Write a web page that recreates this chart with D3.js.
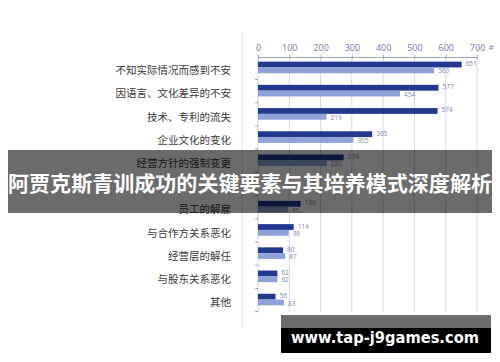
<!DOCTYPE html>
<html>
<head>
<meta charset="utf-8">
<script src="https://cdn.jsdelivr.net/npm/d3@7"></script>
<style>
  html, body { margin: 0; padding: 0; background: #fff; }
  svg { display: block; }
</style>
</head>
<body>
<div id="chart"></div>
<script>
// categories top to bottom; the 6th row is hidden under the banner in the source, so it stays empty
const categories = [
  "不知实际情况而感到不安",
  "因语言、文化差异的不安",
  "技术、专利的流失",
  "企业文化的变化",
  "经营方针的强制变更",
  "",
  "员工的解雇",
  "与合作方关系恶化",
  "经营层的解任",
  "与股东关系恶化",
  "其他"
];
const seriesDark  = [651, 577, 574, 365, 274, null, 136, 114, 80, 62, 56];
const seriesLight = [563, 454, 219, 305, 220, null, 95, 98, 87, 62, 83];
const tickValues = [0, 100, 200, 300, 400, 500, 600, 700];
const title = "阿贾克斯青训成功的关键要素与其培养模式深度解析";
const watermark = "www.tap-j9games.com";

const width = 500, height = 362;
const darkColor = "#22398f", lightColor = "#8fa2d8";
const tickColor = "#6f7aa8", gridColor = "#d3d8ea";

const svg = d3.select("#chart").append("svg")
    .attr("width", width)
    .attr("height", height);

const x = d3.scaleLinear().domain([0, 700]).range([258, 477]);
const y = d3.scaleBand().domain(categories).range([57, 310])
    .paddingInner(0.5).paddingOuter(0.2);
const sub = d3.scaleBand().domain(["dark", "light"]).range([0, y.bandwidth()]);

// grey separator line left of the plot
svg.append("line")
    .attr("x1", 242).attr("x2", 242)
    .attr("y1", 32).attr("y2", 327)
    .attr("stroke", "#e2e2e2");

// vertical grid
svg.append("g")
  .selectAll("line")
  .data(tickValues.slice(1))
  .join("line")
    .attr("x1", d => x(d)).attr("x2", d => x(d))
    .attr("y1", 57).attr("y2", 312)
    .attr("stroke", gridColor);

// top axis
const xAxis = svg.append("g")
    .attr("transform", "translate(0,57)")
    .call(d3.axisTop(x).tickValues(tickValues).tickSize(0).tickPadding(6));
xAxis.select(".domain").attr("stroke", "#9aa6cf");
xAxis.selectAll("text")
    .attr("fill", tickColor)
    .attr("font-family", "'Open Sans', sans-serif")
    .attr("font-size", 9);
xAxis.selectAll(".tick").append("line")
    .attr("y1", -2).attr("y2", 2)
    .attr("stroke", "#9aa6cf");
svg.append("text")
    .attr("x", 491).attr("y", 50)
    .attr("fill", tickColor)
    .attr("font-family", "'Open Sans', sans-serif")
    .attr("font-size", 8)
    .attr("text-anchor", "middle")
    .text("#");

// left axis line with small ticks between rows
svg.append("line")
    .attr("x1", 258).attr("x2", 258)
    .attr("y1", 57).attr("y2", 312)
    .attr("stroke", "#c9cfe4");
svg.append("g")
  .selectAll("line")
  .data(categories)
  .join("line")
    .attr("x1", 255).attr("x2", 258)
    .attr("y1", d => y(d) + y.bandwidth() + y.step() * 0.25 + 0.5)
    .attr("y2", d => y(d) + y.bandwidth() + y.step() * 0.25 + 0.5)
    .attr("stroke", "#9aa0b8");

// bars
const rows = categories.map((c, i) => ({c, dark: seriesDark[i], light: seriesLight[i]}))
    .filter(d => d.dark != null);
const row = svg.append("g")
  .selectAll("g")
  .data(rows)
  .join("g")
    .attr("transform", d => `translate(0,${y(d.c)})`);

// value labels pushed slightly apart so short-bar pairs don't collide
[["dark", darkColor, -0.8], ["light", lightColor, 0.8]].forEach(([k, col, shift]) => {
  row.append("rect")
      .attr("x", x(0))
      .attr("y", sub(k))
      .attr("width", d => x(d[k]) - x(0))
      .attr("height", sub.bandwidth())
      .attr("fill", col);
  row.append("text")
      .attr("x", d => x(d[k]) + 4)
      .attr("y", sub(k) + sub.bandwidth() / 2 + shift)
      .attr("dy", "0.35em")
      .attr("fill", "#7d87b0")
      .attr("font-family", "'Open Sans', sans-serif")
      .attr("font-size", 6.5)
      .text(d => d[k]);
});

// category labels
svg.append("g")
  .selectAll("text")
  .data(categories.filter(c => c))
  .join("text")
    .attr("x", 231)
    .attr("y", d => y(d) + y.bandwidth() / 2 + 3)
    .attr("dy", "0.35em")
    .attr("text-anchor", "end")
    .attr("fill", "#3a3a3a")
    .attr("font-family", "'Noto Sans CJK SC', sans-serif")
    .attr("font-size", 10.5)
    .text(d => d);

// title banner
svg.append("rect")
    .attr("x", 8).attr("y", 150)
    .attr("width", 484).attr("height", 63)
    .attr("fill", "rgba(0,0,0,0.58)");
svg.append("text")
    .attr("x", 250).attr("y", 184)
    .attr("dy", "0.35em")
    .attr("text-anchor", "middle")
    .attr("fill", "#fff")
    .attr("font-family", "'Noto Sans CJK SC', sans-serif")
    .attr("font-weight", "bold")
    .attr("font-size", 21)
    .attr("textLength", 484)
    .attr("lengthAdjust", "spacingAndGlyphs")
    .text(title);

// watermark
svg.append("rect")
    .attr("x", 281).attr("y", 315)
    .attr("width", 210).attr("height", 13)
    .attr("fill", "#6b6b6b");
svg.append("rect")
    .attr("x", 281).attr("y", 328)
    .attr("width", 210).attr("height", 25)
    .attr("fill", "#000");
svg.append("text")
    .attr("x", 385).attr("y", 338)
    .attr("dy", "0.35em")
    .attr("text-anchor", "middle")
    .attr("fill", "#fff")
    .attr("font-family", "'DejaVu Sans', sans-serif")
    .attr("font-weight", "bold")
    .attr("font-size", 15)
    .attr("textLength", 188)
    .attr("lengthAdjust", "spacingAndGlyphs")
    .text(watermark);
</script>
</body>
</html>
